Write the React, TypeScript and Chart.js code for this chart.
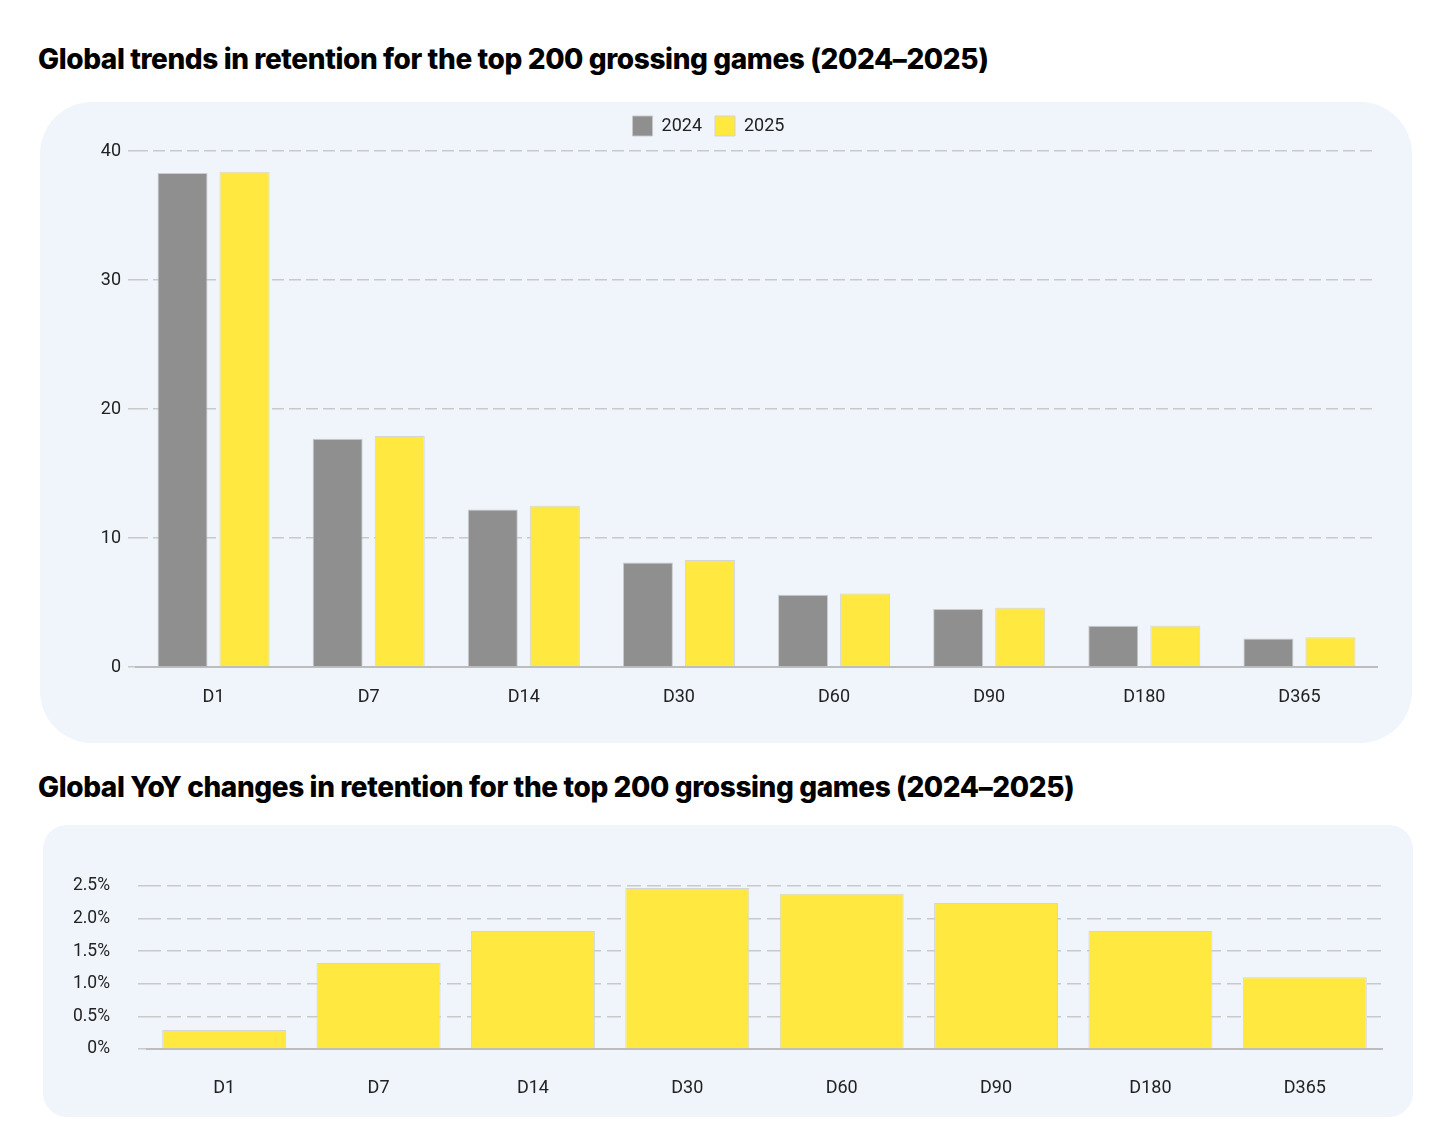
import React, { useEffect, useRef } from "react";
import { Chart, registerables } from "chart.js";

Chart.register(...registerables);

const categories = ["D1", "D7", "D14", "D30", "D60", "D90", "D180", "D365"];
const retention2024 = [38.3, 17.7, 12.2, 8.1, 5.6, 4.5, 3.2, 2.2];
const retention2025 = [38.4, 17.9, 12.5, 8.3, 5.7, 4.6, 3.2, 2.3];
const yoyChange = [0.29, 1.32, 1.81, 2.47, 2.38, 2.24, 1.81, 1.1];
const series1Labels = ["2024", "2025"];
const title1 = "Global trends in retention for the top 200 grossing games (2024\u20132025)";
const title2 = "Global YoY changes in retention for the top 200 grossing games (2024\u20132025)";

const GRAY = "#8f8f8f";
const YELLOW = "#ffe941";
const PANEL = "#f0f5fc";
const GRID = "#c9c9c9";
const TICK_COLOR = "#222";
const TICK_FONT = { family: "Roboto", size: 18 };

// extends the legend's box below its items so the plot starts lower
const legendSpacer = {
  id: "legendSpacer",
  beforeUpdate(chart: any) {
    const lg = chart.legend;
    if (lg && !lg.__spaced) {
      const orig = lg.fit.bind(lg);
      lg.fit = () => {
        orig();
        lg.height += 5;
      };
      lg.__spaced = true;
    }
  },
};

function TopChart() {
  const ref = useRef<HTMLCanvasElement>(null);
  useEffect(() => {
    const chart = new Chart(ref.current!, {
      type: "bar",
      data: {
        labels: categories,
        datasets: [
          {
            label: series1Labels[0],
            data: retention2024,
            backgroundColor: GRAY,
            borderColor: "rgba(200,200,200,0.9)",
            borderWidth: 1,
          },
          {
            label: series1Labels[1],
            data: retention2025,
            backgroundColor: YELLOW,
            borderColor: "rgba(210,210,210,0.9)",
            borderWidth: 1,
          },
        ],
      },
      plugins: [legendSpacer],
      options: {
        animation: false,
        responsive: false,
        maintainAspectRatio: false,
        layout: { padding: { left: 0, right: 35, top: 1, bottom: 0 } },
        datasets: { bar: { categoryPercentage: 0.8, barPercentage: 0.806 } },
        plugins: {
          tooltip: { enabled: false },
          legend: {
            display: true,
            position: "top",
            labels: {
              boxWidth: 20,
              boxHeight: 20,
              padding: 13,
              color: TICK_COLOR,
              font: { family: "Roboto", size: 18 },
            },
          },
        },
        scales: {
          x: {
            grid: { display: false, drawTicks: false },
            border: { display: true, color: "#bdbdbd", width: 2 },
            ticks: { color: TICK_COLOR, font: TICK_FONT, padding: 20 },
            afterFit: (s: any) => {
              s.height = 76;
            },
          },
          y: {
            min: 0,
            max: 40,
            ticks: { stepSize: 10, color: TICK_COLOR, font: TICK_FONT, padding: 7 },
            grid: { color: GRID, lineWidth: 1.5, tickLength: 8, drawTicks: true },
            border: { display: false, dash: [12, 5] },
            afterFit: (s: any) => {
              s.width = 96;
            },
          },
        },
      },
    });
    return () => chart.destroy();
  }, []);
  return <canvas ref={ref} width={1372} height={641} style={{ width: 1372, height: 641, display: "block" }} />;
}

function BottomChart() {
  const ref = useRef<HTMLCanvasElement>(null);
  useEffect(() => {
    const chart = new Chart(ref.current!, {
      type: "bar",
      data: {
        labels: categories,
        datasets: [
          {
            label: "YoY",
            data: yoyChange,
            backgroundColor: YELLOW,
            borderColor: "rgba(210,210,210,0.9)",
            borderWidth: 1,
          },
        ],
      },
      options: {
        animation: false,
        responsive: false,
        maintainAspectRatio: false,
        layout: { padding: { left: 0, right: 31, top: 61, bottom: 0 } },
        datasets: { bar: { categoryPercentage: 0.803, barPercentage: 1 } },
        plugins: { legend: { display: false }, tooltip: { enabled: false } },
        scales: {
          x: {
            grid: { display: false, drawTicks: false },
            border: { display: true, color: "#bdbdbd", width: 2 },
            ticks: { color: TICK_COLOR, font: TICK_FONT, padding: 29 },
            afterFit: (s: any) => {
              s.height = 68;
            },
          },
          y: {
            min: 0,
            max: 2.5,
            ticks: {
              stepSize: 0.5,
              color: TICK_COLOR,
              font: { family: "Roboto", size: 17.5 },
              padding: 28,
              callback: (v: any) => (Number(v) === 0 ? "0%" : Number(v).toFixed(1) + "%"),
            },
            grid: { color: GRID, lineWidth: 1.5, tickLength: 9, drawTicks: true },
            border: { display: false, dash: [14, 6] },
            afterFit: (s: any) => {
              s.width = 104;
            },
          },
        },
      },
    });
    return () => chart.destroy();
  }, []);
  return <canvas ref={ref} width={1370} height={292} style={{ width: 1370, height: 292, display: "block" }} />;
}

const titleStyle: React.CSSProperties = {
  position: "absolute",
  margin: 0,
  fontFamily: "Inter, Roboto, sans-serif",
  fontWeight: 800,
  fontSize: 28,
  letterSpacing: -0.4,
  color: "#000",
  whiteSpace: "nowrap",
  lineHeight: "34px",
};

export default function App() {
  return (
    <div style={{ position: "absolute", left: 0, top: 0, width: 1438, height: 1148, background: "#fff", overflow: "hidden" }}>
      <div style={{ ...titleStyle, left: 38, top: 42 }}>{title1}</div>
      <div
        style={{
          position: "absolute",
          left: 40,
          top: 102,
          width: 1372,
          height: 641,
          background: PANEL,
          borderRadius: 52,
        }}
      >
        <TopChart />
      </div>
      <div style={{ ...titleStyle, left: 38, top: 770 }}>{title2}</div>
      <div
        style={{
          position: "absolute",
          left: 43,
          top: 825,
          width: 1370,
          height: 292,
          background: PANEL,
          borderRadius: 24,
        }}
      >
        <BottomChart />
      </div>
    </div>
  );
}
